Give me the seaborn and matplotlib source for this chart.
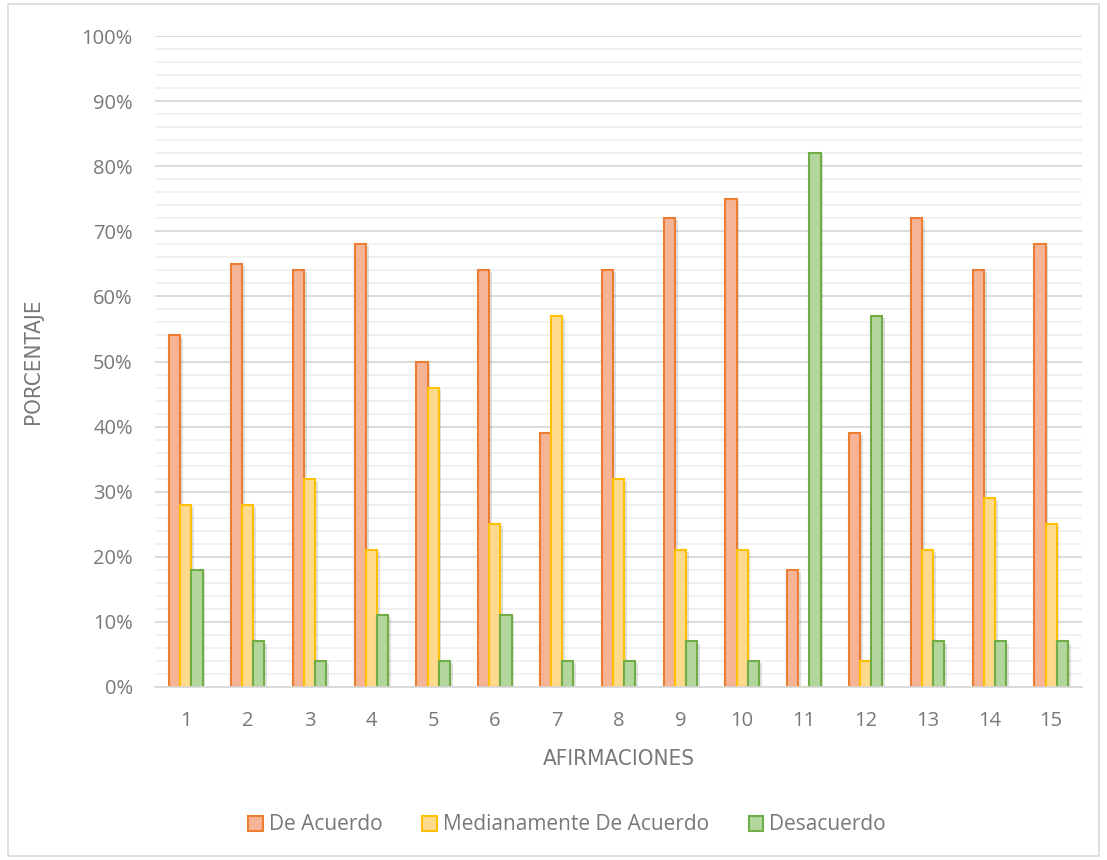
import matplotlib
matplotlib.use("Agg")
import matplotlib.pyplot as plt
import matplotlib.patheffects as pe
from matplotlib.patches import Patch, Rectangle
from matplotlib.ticker import MultipleLocator, FuncFormatter
import seaborn as sns
import pandas as pd

# Survey results per statement (percent of respondents)
afirmaciones = [str(i) for i in range(1, 16)]
de_acuerdo = [54, 65, 64, 68, 50, 64, 39, 64, 72, 75, 18, 39, 72, 64, 68]
medianamente = [28, 28, 32, 21, 46, 25, 57, 32, 21, 21, 0, 4, 21, 29, 25]
desacuerdo = [18, 7, 4, 11, 4, 11, 4, 4, 7, 4, 82, 57, 7, 7, 7]
series = ["De Acuerdo", "Medianamente De Acuerdo", "Desacuerdo"]

fills = ["#F5B496", "#FFD98C", "#B3D69C"]
edges = ["#ED7D31", "#FFC000", "#70AD47"]
text_col = "#787878"

rows = []
for name, vals in zip(series, [de_acuerdo, medianamente, desacuerdo]):
    for a, v in zip(afirmaciones, vals):
        rows.append({"Afirmación": a, "Serie": name, "Porcentaje": v})
df = pd.DataFrame(rows)

sns.set_theme(style="white")
plt.rcParams["font.family"] = ["Open Sans", "DejaVu Sans"]

fig = plt.figure(figsize=(11.07, 8.6), dpi=100)
ax = fig.add_axes([155 / 1107, 1 - 687 / 860, (1082 - 155) / 1107, (687 - 36) / 860])

sns.barplot(data=df, x="Afirmación", y="Porcentaje", hue="Serie",
            order=afirmaciones, hue_order=series, palette=fills,
            width=0.54, gap=0, saturation=1, legend=False, ax=ax)

# Outline each bar with its series' darker tone and a soft drop shadow
n = len(afirmaciones)
for i, patch in enumerate(ax.patches[: n * len(series)]):
    s = i // n
    patch.set_edgecolor(edges[s])
    patch.set_linewidth(1.5)
    patch.set_path_effects([pe.SimplePatchShadow(offset=(2, -1.5), alpha=0.12, shadow_rgbFace="black"),
                            pe.Normal()])

ax.set_ylim(0, 100)
ax.set_xlim(-0.5, n - 0.5)
ax.yaxis.set_major_locator(MultipleLocator(10))
ax.yaxis.set_minor_locator(MultipleLocator(2))
ax.yaxis.set_major_formatter(FuncFormatter(lambda v, _: f"{int(v)}%"))
ax.grid(axis="y", which="major", color="#D9D9D9", linewidth=1.3)
ax.grid(axis="y", which="minor", color="#F0F0F0", linewidth=1.3)
ax.set_axisbelow(True)

for side in ["top", "right", "left"]:
    ax.spines[side].set_visible(False)
ax.spines["bottom"].set_color("#D9D9D9")
ax.spines["bottom"].set_linewidth(1.3)

ax.tick_params(axis="both", which="both", length=0, labelsize=14.5, colors=text_col)
ax.tick_params(axis="y", pad=16)
ax.tick_params(axis="x", pad=17)

ax.set_ylabel("PORCENTAJE", fontsize=16, color=text_col, labelpad=28,
              family="DejaVu Sans", fontstretch="condensed")
ax.set_xlabel("AFIRMACIONES", fontsize=16, color=text_col, labelpad=13,
              family="DejaVu Sans", fontstretch="condensed")

handles = [Patch(facecolor=f, edgecolor=e, linewidth=1.5) for f, e in zip(fills, edges)]
fig.legend(handles, series, loc="center", bbox_to_anchor=(567 / 1107, 1 - 825 / 860),
           ncol=3, frameon=False, fontsize=15, labelcolor=text_col,
           handlelength=0.7, handleheight=0.7, handletextpad=0.3, columnspacing=1.9)

# Light chart-area border
fig.patches.append(Rectangle((8 / 1107, 4 / 860), 1 - 16 / 1107, 1 - 8 / 860,
                             transform=fig.transFigure, fill=False,
                             edgecolor="#D9D9D9", linewidth=1.2))

fig.savefig("out.png", dpi=100, facecolor="white")
